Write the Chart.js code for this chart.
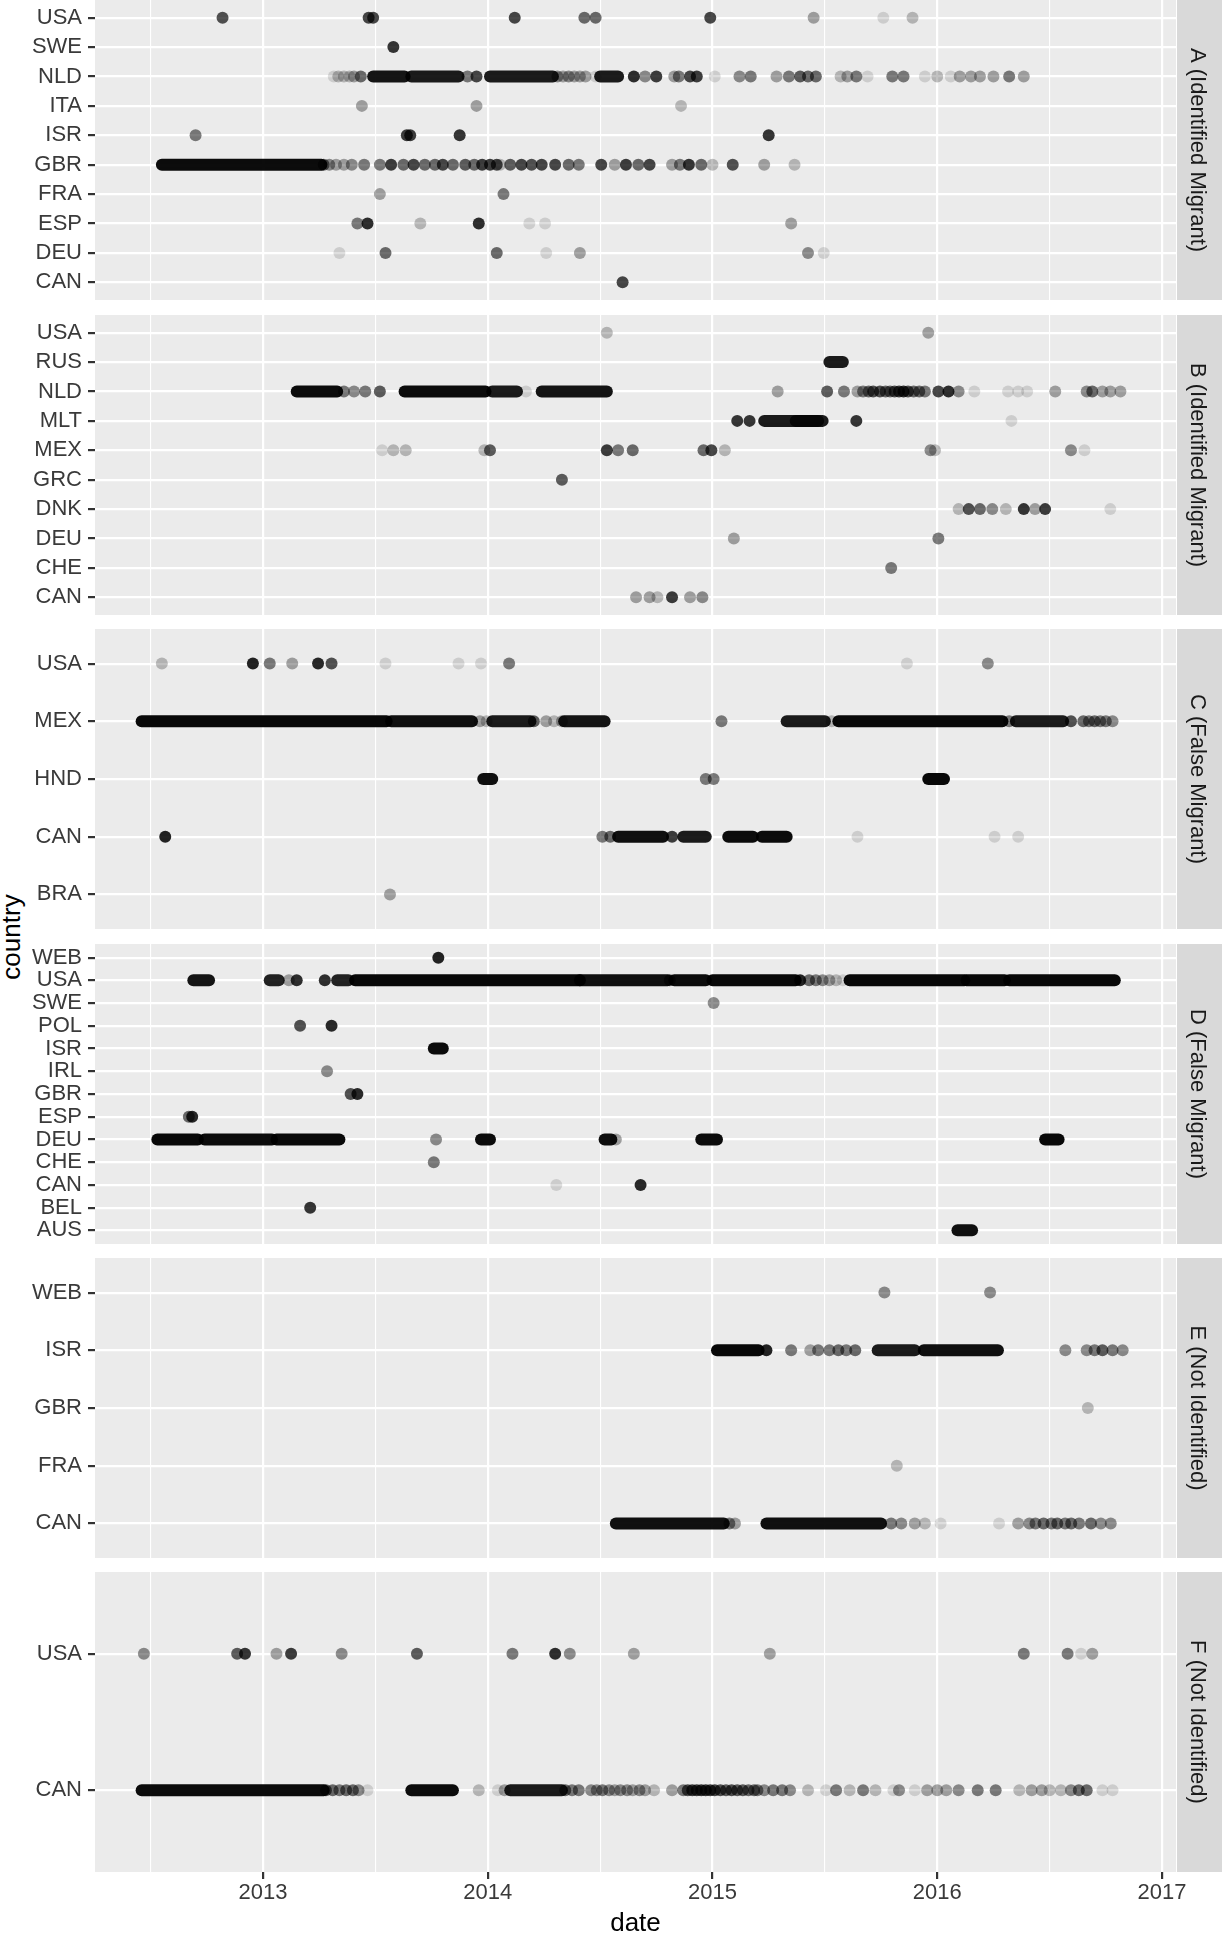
<!DOCTYPE html>
<html>
<head>
<meta charset="utf-8">
<script src="https://cdn.jsdelivr.net/npm/chart.js@4.4.1/dist/chart.umd.min.js"></script>
<style>
  html, body { margin:0; padding:0; background:#ffffff; }
  body { position:relative; width:1223px; height:1933px; overflow:hidden; }
  canvas { position:absolute; left:0; }
  #ytitle { position:absolute; left:11px; top:937px; transform:translate(-50%,-50%) rotate(-90deg);
            font-family:'Liberation Sans', Arial, sans-serif; font-size:26px; line-height:26px;
            color:#000; white-space:nowrap; }
</style>
</head>
<body>
<div id="ytitle">country</div>
<script>
// ---------------- data ----------------
const xTickYears = [2013, 2014, 2015, 2016, 2017];
const xGridYears = [2012.5, 2013, 2013.5, 2014, 2014.5, 2015, 2015.5, 2016, 2016.5, 2017];
const stripLabels = ['A (Identified Migrant)', 'B (Identified Migrant)', 'C (False Migrant)',
                     'D (False Migrant)', 'E (Not Identified)', 'F (Not Identified)'];

// marks: dots = [country, date (decimal year), overlapping posts]
//        runs = [country, first date, last date, overlapping posts] (continuous bands of posts)
const countriesA = ['USA','SWE','NLD','ITA','ISR','GBR','FRA','ESP','DEU','CAN'];
const runsA = [
  ['NLD',2013.49,2013.63,18],['NLD',2013.66,2013.87,16],
  ['NLD',2014.01,2014.29,16],['NLD',2014.50,2014.58,16],
  ['GBR',2012.55,2013.26,22]
];
const dotsA = [
  ['USA',2012.82,8],['USA',2013.47,9],['USA',2013.49,9],['USA',2014.12,9],['USA',2014.43,6],['USA',2014.48,6],
  ['USA',2014.99,9],['USA',2015.45,3],['USA',2015.76,1],['USA',2015.89,2],
  ['SWE',2013.58,11],
  ['NLD',2013.315,1],['NLD',2013.335,2],['NLD',2013.36,2],['NLD',2013.385,2],['NLD',2013.405,3],
  ['NLD',2013.435,6],['NLD',2013.91,5],['NLD',2013.95,9],
  ['NLD',2014.31,4],['NLD',2014.335,3],['NLD',2014.36,4],['NLD',2014.385,3],['NLD',2014.41,3],['NLD',2014.435,3],
  ['NLD',2014.48,1],['NLD',2014.65,12],['NLD',2014.70,4],
  ['NLD',2014.75,10],['NLD',2014.83,3],['NLD',2014.85,5],['NLD',2014.90,9],['NLD',2014.93,10],['NLD',2015.01,1],
  ['NLD',2015.12,4],['NLD',2015.17,5],['NLD',2015.285,3],['NLD',2015.34,5],['NLD',2015.39,7],['NLD',2015.425,6],
  ['NLD',2015.46,6],['NLD',2015.57,2],['NLD',2015.60,3],['NLD',2015.64,5],['NLD',2015.69,1],['NLD',2015.80,5],
  ['NLD',2015.85,5],['NLD',2015.945,1],['NLD',2016.0,2],['NLD',2016.06,1],['NLD',2016.10,3],['NLD',2016.15,3],
  ['NLD',2016.19,3],['NLD',2016.25,3],['NLD',2016.32,5],['NLD',2016.385,3],
  ['ITA',2013.44,3],['ITA',2013.95,3],['ITA',2014.86,2],
  ['ISR',2012.70,5],['ISR',2013.64,10],['ISR',2013.655,10],['ISR',2013.875,11],['ISR',2015.25,11],
  ['GBR',2013.27,6],['GBR',2013.295,4],['GBR',2013.325,3],['GBR',2013.36,3],['GBR',2013.395,4],
  ['GBR',2013.45,5],['GBR',2013.52,5],['GBR',2013.57,10],['GBR',2013.625,6],['GBR',2013.67,9],['GBR',2013.72,6],
  ['GBR',2013.765,6],['GBR',2013.80,9],['GBR',2013.845,6],['GBR',2013.90,7],['GBR',2013.94,6],['GBR',2013.975,10],
  ['GBR',2014.01,10],['GBR',2014.04,9],['GBR',2014.055,2],['GBR',2014.10,7],['GBR',2014.15,9],['GBR',2014.195,8],
  ['GBR',2014.24,9],['GBR',2014.30,9],['GBR',2014.36,6],['GBR',2014.405,5],['GBR',2014.505,9],['GBR',2014.565,3],
  ['GBR',2014.615,10],['GBR',2014.67,6],['GBR',2014.72,9],['GBR',2014.82,3],['GBR',2014.855,5],['GBR',2014.895,11],
  ['GBR',2014.95,6],['GBR',2015.0,2],['GBR',2015.09,8],['GBR',2015.23,3],['GBR',2015.365,2],
  ['FRA',2013.52,3],['FRA',2014.07,5],
  ['ESP',2013.42,5],['ESP',2013.465,12],['ESP',2013.70,2],['ESP',2013.96,12],['ESP',2014.185,1],['ESP',2014.255,1],['ESP',2015.35,3],
  ['DEU',2013.34,1],['DEU',2013.545,6],['DEU',2014.04,6],['DEU',2014.26,1],['DEU',2014.41,3],['DEU',2015.425,4],['DEU',2015.495,1],
  ['CAN',2014.60,9]
];

const countriesB = ['USA','RUS','NLD','MLT','MEX','GRC','DNK','DEU','CHE','CAN'];
const runsB = [
  ['RUS',2015.52,2015.58,16],
  ['NLD',2013.15,2013.33,22],['NLD',2013.63,2013.99,22],['NLD',2014.02,2014.13,16],['NLD',2014.24,2014.53,18],
  ['MLT',2015.23,2015.49,16],['MLT',2015.37,2015.47,10]
];
const dotsB = [
  ['USA',2014.53,2],['USA',2015.96,3],
  ['NLD',2013.36,5],['NLD',2013.405,4],['NLD',2013.455,5],['NLD',2013.52,7],['NLD',2014.17,1],['NLD',2015.29,3],
  ['NLD',2015.51,7],['NLD',2015.585,5],['NLD',2015.645,3],
  ['NLD',2015.67,5],['NLD',2015.695,6],['NLD',2015.715,8],['NLD',2015.745,8],['NLD',2015.77,6],['NLD',2015.79,6],
  ['NLD',2015.81,8],['NLD',2015.83,10],['NLD',2015.85,12],['NLD',2015.87,8],['NLD',2015.895,6],['NLD',2015.92,6],['NLD',2015.945,5],
  ['NLD',2016.005,9],
  ['NLD',2016.05,12],['NLD',2016.095,4],['NLD',2016.165,1],['NLD',2016.315,1],['NLD',2016.36,1],['NLD',2016.40,1],
  ['NLD',2016.525,3],['NLD',2016.665,4],['NLD',2016.69,6],['NLD',2016.735,3],['NLD',2016.77,3],['NLD',2016.815,3],
  ['MLT',2015.11,11],['MLT',2015.165,11],['MLT',2015.64,11],['MLT',2016.33,1],
  ['MEX',2013.53,1],['MEX',2013.58,2],['MEX',2013.635,2],['MEX',2013.985,2],['MEX',2014.01,7],['MEX',2014.53,10],
  ['MEX',2014.58,5],['MEX',2014.645,6],['MEX',2014.96,6],['MEX',2014.995,9],['MEX',2015.055,2],['MEX',2015.97,4],
  ['MEX',2015.99,2],['MEX',2016.595,4],['MEX',2016.655,1],
  ['GRC',2014.33,7],
  ['DNK',2016.095,2],['DNK',2016.14,8],['DNK',2016.19,6],['DNK',2016.245,4],['DNK',2016.305,2],['DNK',2016.385,11],
  ['DNK',2016.435,3],['DNK',2016.48,10],['DNK',2016.77,1],
  ['DEU',2015.095,3],['DEU',2016.005,5],
  ['CHE',2015.795,5],
  ['CAN',2014.66,3],['CAN',2014.72,3],['CAN',2014.755,2],['CAN',2014.82,10],['CAN',2014.90,3],['CAN',2014.955,4]
];

const countriesC = ['USA','MEX','HND','CAN','BRA'];
const runsC = [
  ['MEX',2012.46,2013.55,25],['MEX',2013.57,2013.93,20],['MEX',2014.02,2014.19,16],['MEX',2014.34,2014.52,18],
  ['MEX',2015.33,2015.50,16],['MEX',2015.56,2016.29,24],['MEX',2016.35,2016.56,16],
  ['HND',2013.98,2014.02,20],['HND',2015.96,2016.03,25],
  ['CAN',2014.58,2014.78,20],['CAN',2014.87,2014.97,16],['CAN',2015.07,2015.18,22],['CAN',2015.22,2015.33,22]
];
const dotsC = [
  ['USA',2012.55,2],['USA',2012.955,14],['USA',2013.03,5],['USA',2013.13,3],['USA',2013.245,13],['USA',2013.305,8],
  ['USA',2013.545,1],['USA',2013.87,1],['USA',2013.97,1],['USA',2014.095,5],['USA',2015.865,1],['USA',2016.225,4],
  ['MEX',2013.965,3],['MEX',2013.995,2],['MEX',2014.205,7],['MEX',2014.26,3],['MEX',2014.295,2],['MEX',2014.33,3],
  ['MEX',2015.04,5],['MEX',2015.53,2],['MEX',2016.32,5],['MEX',2016.595,8],
  ['MEX',2016.65,6],['MEX',2016.675,5],['MEX',2016.70,6],['MEX',2016.725,5],['MEX',2016.75,5],['MEX',2016.78,4],
  ['HND',2014.97,5],['HND',2015.005,5],
  ['CAN',2012.565,14],['CAN',2014.51,5],['CAN',2014.545,6],['CAN',2014.82,10],['CAN',2015.645,1],['CAN',2016.255,1],['CAN',2016.36,1],
  ['BRA',2013.565,3]
];

const countriesD = ['WEB','USA','SWE','POL','ISR','IRL','GBR','ESP','DEU','CHE','CAN','BEL','AUS'];
const runsD = [
  ['USA',2012.69,2012.76,18],['USA',2013.03,2013.07,14],['USA',2013.33,2013.38,14],['USA',2013.41,2014.41,25],
  ['USA',2014.41,2014.80,20],['USA',2014.83,2014.97,22],['USA',2015.00,2015.37,24],
  ['USA',2015.61,2016.12,25],['USA',2016.13,2016.30,25],['USA',2016.32,2016.79,25],
  ['ISR',2013.76,2013.80,22],
  ['DEU',2012.53,2012.71,25],['DEU',2012.74,2013.04,22],['DEU',2013.06,2013.34,24],['DEU',2013.97,2014.01,22],
  ['DEU',2014.52,2014.55,20],['DEU',2014.95,2015.02,22],['DEU',2016.48,2016.54,25],
  ['AUS',2016.09,2016.155,20]
];
const dotsD = [
  ['WEB',2013.78,14],
  ['USA',2013.115,3],['USA',2013.15,12],['USA',2013.275,12],['USA',2014.81,6],['USA',2015.39,14],
  ['USA',2015.43,6],['USA',2015.46,5],['USA',2015.49,4],['USA',2015.52,3],['USA',2015.55,2],['USA',2015.58,1],
  ['SWE',2015.005,4],
  ['POL',2013.165,8],['POL',2013.305,13],
  ['IRL',2013.285,4],
  ['GBR',2013.39,8],['GBR',2013.42,13],
  ['ESP',2012.67,6],['ESP',2012.685,13],
  ['DEU',2013.77,4],['DEU',2014.57,3],
  ['CHE',2013.76,5],
  ['CAN',2014.305,1],['CAN',2014.68,13],
  ['BEL',2013.21,11]
];

const countriesE = ['WEB','ISR','GBR','FRA','CAN'];
const runsE = [
  ['ISR',2015.02,2015.205,25],['ISR',2015.735,2015.90,16],['ISR',2015.94,2016.27,20],
  ['CAN',2014.57,2015.05,20],['CAN',2015.24,2015.75,20]
];
const dotsE = [
  ['WEB',2015.765,4],['WEB',2016.235,4],
  ['ISR',2015.24,14],['ISR',2015.35,5],['ISR',2015.435,3],['ISR',2015.47,5],['ISR',2015.52,5],['ISR',2015.56,6],
  ['ISR',2015.595,5],['ISR',2015.635,6],['ISR',2016.57,4],['ISR',2016.665,4],['ISR',2016.70,5],['ISR',2016.735,7],
  ['ISR',2016.78,5],['ISR',2016.825,4],
  ['GBR',2016.67,2],
  ['FRA',2015.82,2],
  ['CAN',2015.075,5],['CAN',2015.10,3],['CAN',2015.795,5],['CAN',2015.84,4],['CAN',2015.90,3],['CAN',2015.945,2],
  ['CAN',2016.015,1],['CAN',2016.275,1],
  ['CAN',2016.36,3],['CAN',2016.41,4],['CAN',2016.437,5],['CAN',2016.473,6],['CAN',2016.508,5],['CAN',2016.534,6],
  ['CAN',2016.569,5],['CAN',2016.596,6],['CAN',2016.631,5],['CAN',2016.684,6],['CAN',2016.728,4],['CAN',2016.772,4]
];

const countriesF = ['USA','CAN'];
const runsF = [
  ['CAN',2012.46,2013.27,22],['CAN',2013.66,2013.845,22],['CAN',2014.10,2014.33,16]
];
const dotsF = [
  ['USA',2012.47,4],['USA',2012.885,7],['USA',2012.92,11],['USA',2013.06,3],['USA',2013.125,10],['USA',2013.35,4],
  ['USA',2013.685,7],['USA',2014.11,5],['USA',2014.30,12],['USA',2014.365,4],['USA',2014.65,3],['USA',2015.255,3],
  ['USA',2016.385,5],['USA',2016.58,5],['USA',2016.64,1],['USA',2016.69,3],
  ['CAN',2013.28,7],['CAN',2013.31,6],['CAN',2013.34,5],['CAN',2013.37,6],['CAN',2013.40,6],['CAN',2013.425,4],
  ['CAN',2013.465,1],['CAN',2013.96,2],['CAN',2014.045,1],['CAN',2014.075,3],
  ['CAN',2014.345,6],['CAN',2014.375,5],['CAN',2014.405,5],
  ['CAN',2014.46,4],['CAN',2014.485,4],['CAN',2014.51,5],['CAN',2014.54,4],['CAN',2014.565,3],['CAN',2014.59,4],
  ['CAN',2014.62,4],['CAN',2014.645,3],['CAN',2014.675,4],['CAN',2014.70,3],
  ['CAN',2014.74,2],['CAN',2014.82,3],
  ['CAN',2014.87,5],['CAN',2014.89,8],['CAN',2014.91,10],['CAN',2014.93,10],['CAN',2014.95,11],['CAN',2014.97,11],
  ['CAN',2014.99,10],['CAN',2015.01,9],['CAN',2015.035,8],['CAN',2015.06,7],['CAN',2015.085,8],['CAN',2015.11,7],
  ['CAN',2015.135,7],['CAN',2015.16,6],['CAN',2015.185,6],['CAN',2015.20,5],
  ['CAN',2015.23,4],['CAN',2015.27,5],['CAN',2015.31,5],['CAN',2015.345,4],['CAN',2015.425,2],['CAN',2015.505,1],
  ['CAN',2015.55,5],['CAN',2015.61,2],['CAN',2015.67,5],['CAN',2015.725,2],['CAN',2015.805,1],['CAN',2015.83,4],
  ['CAN',2015.90,1],['CAN',2015.955,3],['CAN',2016.0,3],['CAN',2016.04,3],['CAN',2016.095,4],['CAN',2016.18,5],
  ['CAN',2016.26,5],['CAN',2016.365,2],['CAN',2016.42,3],['CAN',2016.465,3],['CAN',2016.50,2],['CAN',2016.55,2],
  ['CAN',2016.595,4],['CAN',2016.63,6],['CAN',2016.665,6],['CAN',2016.735,1],['CAN',2016.78,1]
];

// ---------------- layout & style ----------------
Chart.defaults.font.family = "'Liberation Sans', Arial, Helvetica, sans-serif";
const X_MIN = 2012.2525, X_MAX = 2017.0623;
const PANEL_TOP = [0, 315, 629, 944, 1258, 1572];
const PANEL_H = 300, PAD = 12, Y_AXIS_W = 95, RIGHT_SPACE = 47, X_AXIS_H = 65;
const BASE_ALPHA = 0.13;
const MARK_SIZE = 12;
const TEXT_GREY = '#3A3A3A';
function shade(n) { return 'rgba(0,0,0,' + (1 - Math.pow(1 - BASE_ALPHA, n)).toFixed(3) + ')'; }
function isMajor(c) { return c.tick && xTickYears.includes(c.tick.value); }

const panelBg = {
  id: 'panelBg',
  beforeDraw(chart) {
    const { ctx, chartArea: a } = chart;
    ctx.save();
    ctx.fillStyle = '#EBEBEB';
    ctx.fillRect(a.left, a.top, a.right - a.left, a.bottom - a.top);
    ctx.restore();
  }
};
const stripPlugin = {
  id: 'strip',
  afterDraw(chart, args, opts) {
    const { ctx, chartArea: a } = chart;
    ctx.save();
    ctx.fillStyle = '#D9D9D9';
    ctx.fillRect(a.right + 1, a.top, 45, a.bottom - a.top);
    ctx.translate(a.right + 21, (a.top + a.bottom) / 2);
    ctx.rotate(Math.PI / 2);
    ctx.fillStyle = '#1A1A1A';
    ctx.font = "22px 'Liberation Sans', Arial, sans-serif";
    ctx.textAlign = 'center';
    ctx.textBaseline = 'middle';
    ctx.fillText(opts.text, 0, 0);
    ctx.restore();
  }
};

function buildPanel(i, countries, runs, dots) {
  const isBottom = i === PANEL_TOP.length - 1;
  const h = PAD + PANEL_H + (isBottom ? X_AXIS_H : PAD);
  const cv = document.createElement('canvas');
  cv.width = 1223; cv.height = h;
  cv.style.width = '1223px'; cv.style.height = h + 'px';
  cv.style.top = (PANEL_TOP[i] - PAD) + 'px';
  document.body.appendChild(cv);

  const datasets = runs.map(r => ({
    type: 'scatter', showLine: true,
    data: [{ x: r[1], y: countries.indexOf(r[0]) }, { x: r[2], y: countries.indexOf(r[0]) }],
    borderColor: shade(r[3]), borderWidth: MARK_SIZE, borderCapStyle: 'round',
    pointRadius: 0, pointHoverRadius: 0, fill: false
  }));
  datasets.push({
    type: 'scatter',
    data: dots.map(d => ({ x: d[1], y: countries.indexOf(d[0]), n: d[2] })),
    pointRadius: MARK_SIZE / 2, pointHoverRadius: MARK_SIZE / 2, pointBorderWidth: 0,
    pointBackgroundColor: c => shade(c.raw ? c.raw.n : 1)
  });

  new Chart(cv, {
    type: 'scatter',
    data: { datasets },
    options: {
      responsive: false, animation: false, events: [],
      layout: { padding: { top: PAD, bottom: isBottom ? 0 : PAD, left: 0, right: RIGHT_SPACE } },
      plugins: { legend: { display: false }, tooltip: { enabled: false }, strip: { text: stripLabels[i] } },
      scales: {
        x: {
          type: 'linear', min: X_MIN, max: X_MAX,
          afterBuildTicks: s => { s.ticks = xGridYears.map(v => ({ value: v })); },
          afterFit: s => { s.height = isBottom ? X_AXIS_H : 0; s.paddingLeft = 0; s.paddingRight = 0; },
          border: { display: false },
          grid: {
            color: '#FFFFFF', lineWidth: c => isMajor(c) ? 2.2 : 1.1,
            drawTicks: isBottom, tickLength: 7, tickWidth: 2.2,
            tickColor: c => isMajor(c) ? '#333333' : 'rgba(0,0,0,0)'
          },
          ticks: {
            display: isBottom, autoSkip: false, maxRotation: 0, minRotation: 0, padding: 1,
            color: TEXT_GREY, font: { size: 22 },
            callback: v => xTickYears.includes(v) ? String(v) : ''
          },
          title: { display: isBottom, text: 'date', color: '#000000', font: { size: 26, lineHeight: 1 }, padding: { top: 0, bottom: 0 } }
        },
        y: {
          type: 'linear', reverse: true, min: -0.6, max: countries.length - 0.4,
          afterBuildTicks: s => { s.ticks = countries.map((c, k) => ({ value: k })); },
          afterFit: s => { s.width = Y_AXIS_W; s.paddingTop = 0; s.paddingBottom = 0; },
          border: { display: false },
          grid: { color: '#FFFFFF', lineWidth: 2.2, tickLength: 7, tickWidth: 2.2, tickColor: '#333333' },
          ticks: { autoSkip: false, padding: 6, color: TEXT_GREY, font: { size: 22, lineHeight: 1 },
                   callback: v => countries[v] }
        }
      }
    },
    plugins: [panelBg, stripPlugin]
  });
}

buildPanel(0, countriesA, runsA, dotsA);
buildPanel(1, countriesB, runsB, dotsB);
buildPanel(2, countriesC, runsC, dotsC);
buildPanel(3, countriesD, runsD, dotsD);
buildPanel(4, countriesE, runsE, dotsE);
buildPanel(5, countriesF, runsF, dotsF);
</script>
</body>
</html>
